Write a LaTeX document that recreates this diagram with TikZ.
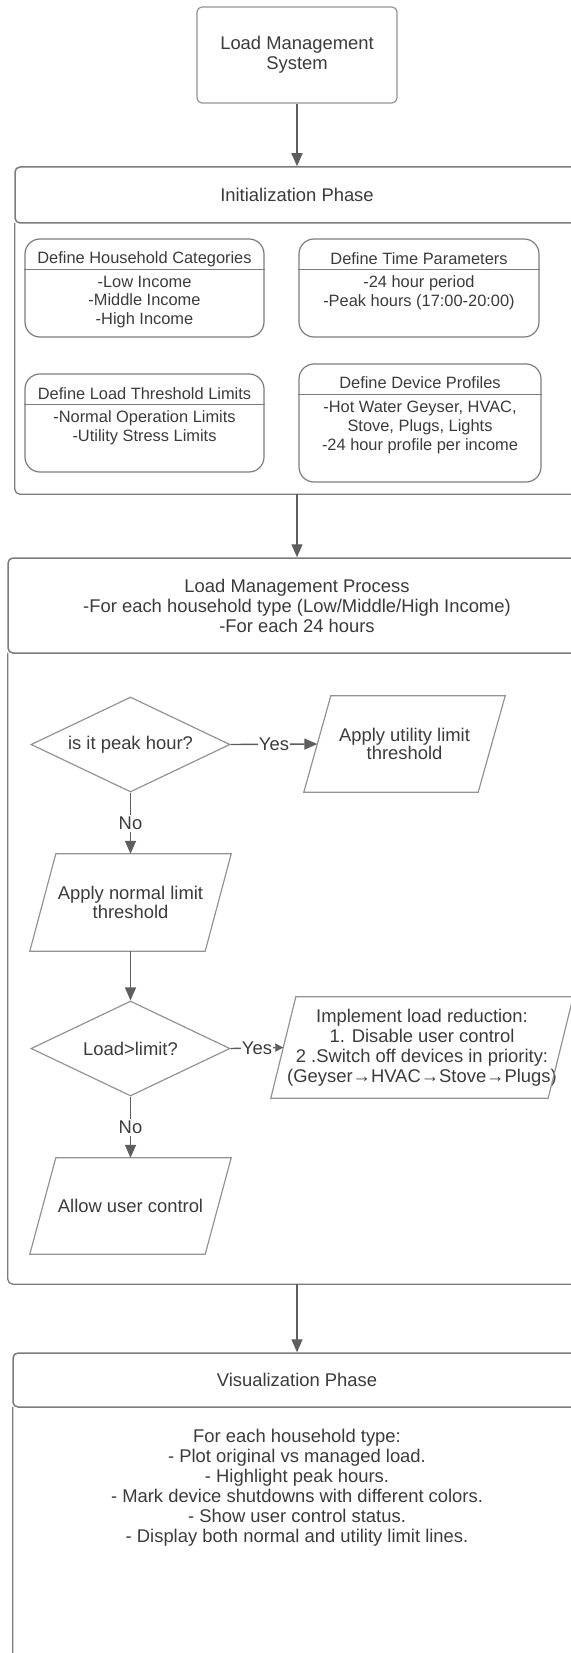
\documentclass[tikz,border=0pt]{standalone}
\usepackage{fontspec}
\setmainfont{Liberation Sans}
\usetikzlibrary{shapes.geometric,arrows.meta,calc}

\definecolor{ink}{HTML}{3B3B3B}
\definecolor{rim}{HTML}{939393}
\definecolor{framec}{HTML}{7C7C7C}
\definecolor{wire}{HTML}{5E5E5E}

\tikzset{
  txt/.style={text=ink, font=\fontsize{18.4}{20}\selectfont, align=center, inner sep=0pt},
  small/.style={text=ink, font=\fontsize{16.4}{18.8}\selectfont, align=center, inner sep=0pt},
  startbox/.style={txt, draw=rim, line width=1.2pt, rounded corners=5pt,
    minimum width=200pt, minimum height=96pt},
  headbox/.style={txt, draw=framec, line width=1.5pt, rounded corners=5pt, fill=white},
  bodyframe/.style={draw=framec, line width=1.3pt, rounded corners=5pt},
  holder/.style={inner sep=0pt},
  card/.style={draw=framec, line width=1.2pt, rounded corners=15pt, inner sep=0pt},
  decision/.style={txt, diamond, aspect=2.095, draw=rim, line width=1.2pt,
    minimum width=199pt, minimum height=95pt},
  iobox/.style={txt, minimum width=201pt, minimum height=96pt},
  shapeline/.style={draw=rim, line width=1.2pt, line join=miter},
  arr/.style={draw=wire, line width=1.4pt, -{Triangle[length=13pt,width=11pt]}},
  arrshort/.style={draw=wire, line width=1.4pt, -{Triangle[length=8pt,width=8pt]}},
  lbl/.style={txt, fill=white, inner xsep=1pt, inner ysep=2pt},
}

\begin{document}
\begin{tikzpicture}[x=1pt, y=-1pt]
\useasboundingbox (0,0) rectangle (570,1653);

% ---------- start ----------
\node[startbox] (start) at (297,55) {Load Management\\System};

% ---------- initialization phase ----------
\node[holder, minimum width=564pt, minimum height=271pt] (initbody) at (297,358.5) {};
\draw[bodyframe] (initbody.north west) -- (initbody.south west)
  -- (initbody.south east) -- (initbody.north east);
\node[headbox, minimum width=564pt, minimum height=56pt] (inithead) at (297,195) {Initialization Phase};

% cards
\node[card, minimum width=239pt, minimum height=98pt] (cat) at (144.5,288) {};
\draw[draw=framec, line width=1.2pt] ([yshift=-31pt]cat.north west) -- ([yshift=-31pt]cat.north east);
\node[small] (cattitle) at (144.5,259) {Define Household Categories};
\node[small] (catbody) at (144.5,302) {-Low Income\\-Middle Income\\-High Income};

\node[card, minimum width=240pt, minimum height=98pt] (time) at (419,288) {};
\draw[draw=framec, line width=1.2pt] ([yshift=-31pt]time.north west) -- ([yshift=-31pt]time.north east);
\node[small] (timetitle) at (419,258.5) {Define Time Parameters};
\node[small] (timebody) at (419,293) {-24 hour period\\-Peak hours (17:00-20:00)};

\node[card, minimum width=239pt, minimum height=98pt] (lim) at (144.5,423) {};
\draw[draw=framec, line width=1.2pt] ([yshift=-31pt]lim.north west) -- ([yshift=-31pt]lim.north east);
\node[small] (limtitle) at (144.5,394) {Define Load Threshold Limits};
\node[small] (limbody) at (144.5,428) {-Normal Operation Limits\\-Utility Stress Limits};

\node[card, minimum width=242pt, minimum height=118pt] (dev) at (420,423) {};
\draw[draw=framec, line width=1.2pt] ([yshift=-31pt]dev.north west) -- ([yshift=-31pt]dev.north east);
\node[small] (devtitle) at (420,383) {Define Device Profiles};
\node[small] (devbody) at (420,427.5) {-Hot Water Geyser, HVAC,\\Stove, Plugs, Lights\\-24 hour profile per income};

% ---------- load management process ----------
\node[holder, minimum width=578pt, minimum height=631pt] (procbody) at (297,968.5) {};
\draw[bodyframe] (procbody.north west) -- (procbody.south west)
  -- (procbody.south east) -- (procbody.north east);
\node[headbox, minimum width=578pt, minimum height=95pt] (prochead) at (297,605.5)
  {Load Management Process\\-For each household type (Low/Middle/High Income)\\-For each 24 hours};

\node[decision] (peak) at (130.5,744.5) {is it peak hour?};
\node[iobox, font=\fontsize{18.4}{18.3}\selectfont] (utilio) at (404.5,744) {Apply utility limit\\threshold};
\node[iobox, minimum height=97pt, font=\fontsize{18.4}{19}\selectfont] (normio) at (130.5,902.5) {Apply normal limit\\threshold};
\node[decision] (over) at (130.5,1048.5) {Load>limit?};
\node[iobox, minimum width=302pt, minimum height=101pt] (cutio) at (422,1047.5)
  {Implement load reduction:\\1. Disable user control\\2 .Switch off devices in priority:\\(Geyser→HVAC→Stove→Plugs)};
\node[iobox] (allowio) at (130.5,1206) {Allow user control};

\foreach \n/\s in {utilio/27, normio/26, allowio/26, cutio/25}{
  \draw[shapeline] ([xshift=\s pt]\n.north west) -- (\n.north east)
    -- ([xshift=-\s pt]\n.south east) -- (\n.south west) -- cycle;
}

% ---------- visualization phase ----------
\node[holder, minimum width=568pt, minimum height=263pt] (visbody) at (297,1538.5) {};
\draw[bodyframe] (visbody.north west) -- (visbody.south west)
  -- (visbody.south east) -- (visbody.north east);
\node[headbox, minimum width=568pt, minimum height=54pt] (vishead) at (297,1380) {Visualization Phase};
\node[txt] (vistext) at (297,1488) {For each household type:\\- Plot original vs managed load.\\- Highlight peak hours.\\- Mark device shutdowns with different colors.\\- Show user control status.\\- Display both normal and utility limit lines.};

% ---------- connectors ----------
\draw[arr] (start.south) -- (start.south |- inithead.north);
\draw[arr] (initbody.south) -- (prochead.north);
\draw[arr] (procbody.south) -- (vishead.north);
\draw[arr] (peak.east) -- node[lbl] {Yes} ([xshift=13.5pt]utilio.west);
\draw[arr] (peak.south) -- node[lbl] {No} (normio.north);
\draw[arr] (normio.south) -- (over.north);
\draw[arrshort] (over.east) -- node[lbl] {Yes} ([xshift=12.5pt]cutio.west);
\draw[arr] (over.south) -- node[lbl] {No} (allowio.north);
\end{tikzpicture}
\end{document}
